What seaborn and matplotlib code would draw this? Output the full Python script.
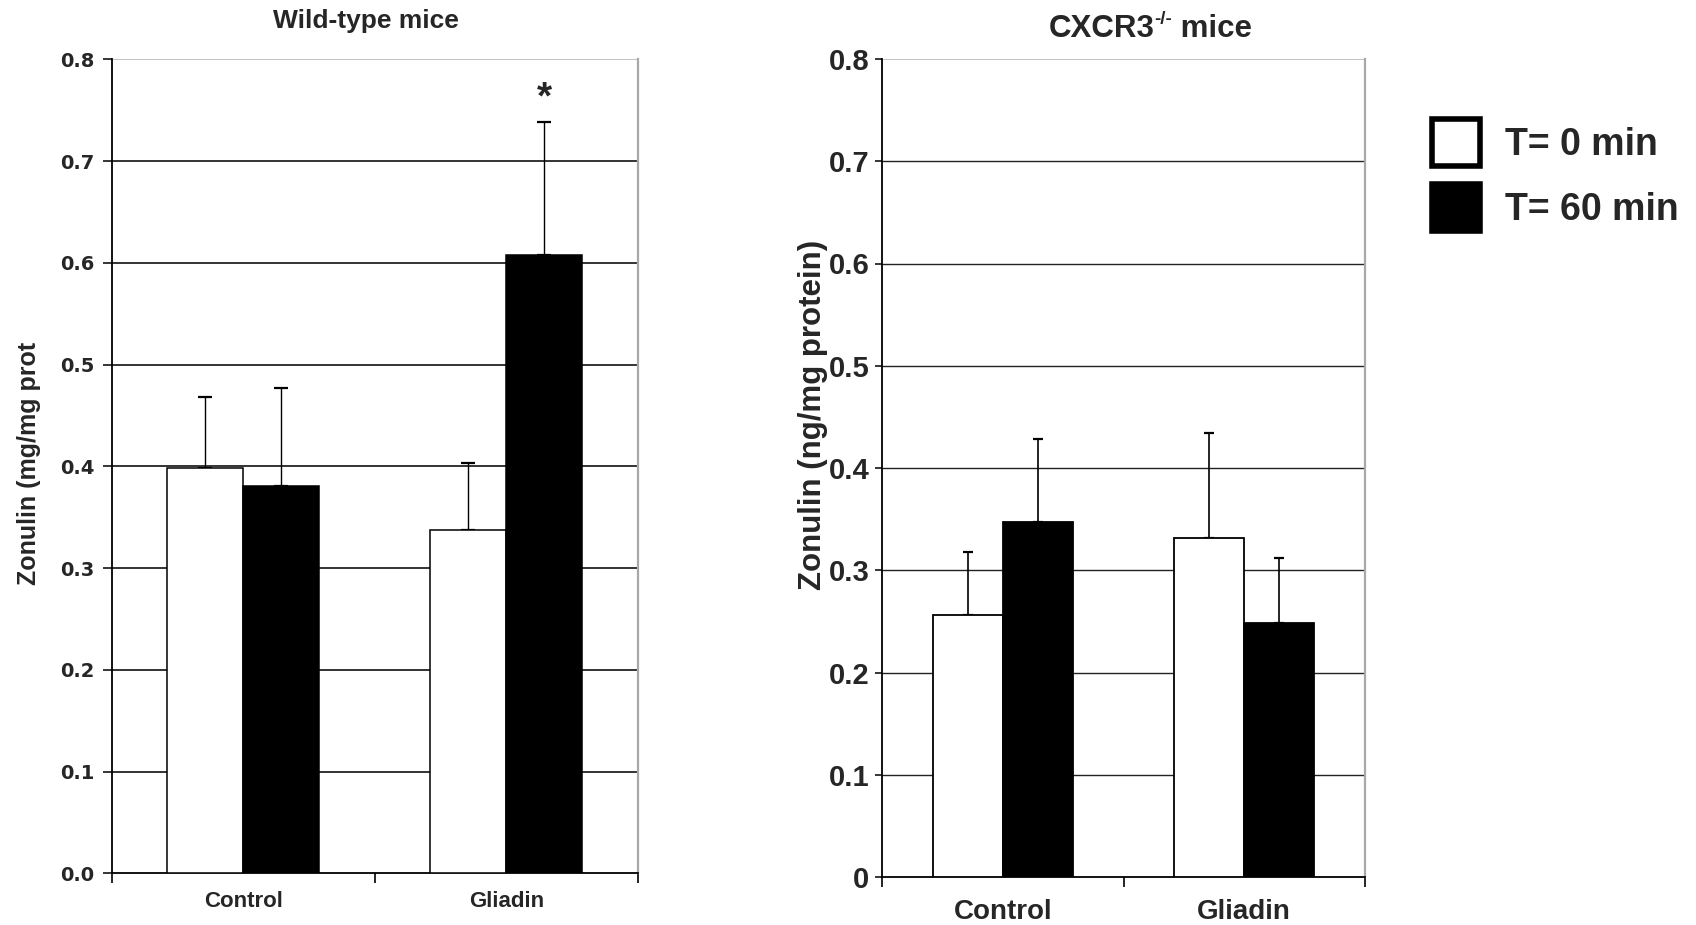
import matplotlib
matplotlib.use("Agg")
import matplotlib.pyplot as plt
from matplotlib.patches import Patch
import seaborn as sns
import pandas as pd

# ---------------- data ----------------
categories = ["Control", "Gliadin"]
times = ["T= 0 min", "T= 60 min"]

wt_t0 = [0.398, 0.337]
wt_t60 = [0.381, 0.608]
wt_t0_err = [0.070, 0.066]
wt_t60_err = [0.096, 0.130]

ko_t0 = [0.256, 0.332]
ko_t60 = [0.347, 0.248]
ko_t0_err = [0.062, 0.102]
ko_t60_err = [0.081, 0.064]

wt_yticks = [0.0, 0.1, 0.2, 0.3, 0.4, 0.5, 0.6, 0.7, 0.8]
wt_yticklabels = ["0.0", "0.1", "0.2", "0.3", "0.4", "0.5", "0.6", "0.7", "0.8"]
ko_yticks = [0.0, 0.1, 0.2, 0.3, 0.4, 0.5, 0.6, 0.7, 0.8]
ko_yticklabels = ["0", "0.1", "0.2", "0.3", "0.4", "0.5", "0.6", "0.7", "0.8"]

# ---------------- style ----------------
sns.set_theme(style="white")
WIDE = "Liberation Sans"
plt.rcParams["font.family"] = [WIDE, "DejaVu Sans"]
plt.rcParams["font.weight"] = "bold"

W, H = 1696, 925
fig = plt.figure(figsize=(W / 100, H / 100), dpi=100)
ax1 = fig.add_axes([111.5 / W, (H - 873.3) / H, (638 - 111.5) / W, (873.3 - 59.3) / H])
ax2 = fig.add_axes([882 / W, (H - 877) / H, (1365 - 882) / W, (877 - 59) / H])

palette = {times[0]: "white", times[1]: "black"}


def long_df(t0, t60):
    return pd.DataFrame({
        "group": categories * 2,
        "time": [times[0]] * len(categories) + [times[1]] * len(categories),
        "value": list(t0) + list(t60),
    })


def draw(ax, t0, t60, e0, e60, grid_color, grid_lw, capsize, bar_lw, err_lw):
    df = long_df(t0, t60)
    sns.barplot(data=df, x="group", y="value", hue="time", order=categories,
                hue_order=times, palette=palette, saturation=1, width=0.578,
                edgecolor="black", linewidth=bar_lw, errorbar=None,
                legend=False, ax=ax, zorder=3)
    for cont, errs in zip(ax.containers, [e0, e60]):
        xs = [b.get_x() + b.get_width() / 2 for b in cont]
        ys = [b.get_height() for b in cont]
        ax.errorbar(xs, ys, yerr=[[0] * len(errs), errs], fmt="none",
                    ecolor="black", elinewidth=err_lw, capsize=capsize,
                    capthick=1.6, zorder=2)
    ax.set_xlim(-0.5, 1.5)
    ax.set_ylim(0, 0.8)
    for y in [0.1, 0.2, 0.3, 0.4, 0.5, 0.6, 0.7]:
        ax.axhline(y, color=grid_color, lw=grid_lw, zorder=1)
    ax.axhline(0.8, color="#b8b8b8", lw=1.2, zorder=1)
    ax.set_xlabel("")
    ax.set_ylabel("")
    ax.spines["top"].set_visible(False)
    ax.spines["right"].set_color("#a8a8a8")
    ax.spines["right"].set_linewidth(1.6)
    ax.spines["left"].set_color("black")
    ax.spines["left"].set_linewidth(1.3)
    ax.spines["bottom"].set_color("black")
    ax.spines["bottom"].set_linewidth(1.3)
    ax.set_xticks([-0.5, 0.5, 1.5], minor=True)
    ax.tick_params(axis="x", which="minor", length=7, width=1.2,
                   direction="out", color="black", bottom=True)


draw(ax1, wt_t0, wt_t60, wt_t0_err, wt_t60_err, "#111111", 1.2, 4.7, 1.1, 1.0)
draw(ax2, ko_t0, ko_t60, ko_t0_err, ko_t60_err, "#222222", 1.0, 3.8, 1.3, 1.2)

# ---- left panel text ----
ax1.set_yticks(wt_yticks, wt_yticklabels)
ax1.tick_params(axis="y", which="major", length=6.5, width=1.1, pad=6,
                direction="out", left=True, color="black")
for t in ax1.get_yticklabels():
    t.set_fontsize(14); t.set_fontweight("bold"); t.set_family(["DejaVu Sans"])
ax1.set_xticks([0, 1], categories)
ax1.tick_params(axis="x", which="major", length=0, pad=13)
for t in ax1.get_xticklabels():
    t.set_fontsize(16); t.set_fontweight("bold"); t.set_family([WIDE])
ax1.text(0.4836, 1.038, "Wild-type mice", transform=ax1.transAxes,
         ha="center", va="baseline", fontsize=19, fontweight="bold",
         family=[WIDE])
ax1.text(-0.157, 0.503, "Zonulin (mg/mg prot", transform=ax1.transAxes,
         rotation=90, ha="center", va="center", fontsize=18,
         fontweight="bold", family=[WIDE])
# significance mark above Gliadin T=60 bar
star_bar = ax1.containers[1][1]
ax1.text(star_bar.get_x() + star_bar.get_width() / 2,
         wt_t60[1] + wt_t60_err[1] + 0.014, "*", ha="center", va="baseline",
         fontsize=28, fontweight="bold", family=[WIDE])

# ---- right panel text ----
ax2.set_yticks(ko_yticks, ko_yticklabels)
ax2.tick_params(axis="y", which="major", length=5, width=1.1, pad=4,
                direction="out", left=True, color="black")
for t in ax2.get_yticklabels():
    t.set_fontsize(21); t.set_fontweight("bold"); t.set_family([WIDE])
ax2.set_xticks([0, 1], categories)
ax2.tick_params(axis="x", which="major", length=0, pad=16)
for t in ax2.get_xticklabels():
    t.set_fontsize(20); t.set_fontweight("bold"); t.set_family([WIDE])
ax2.text(-0.142, 0.565, "Zonulin (ng/mg protein)", transform=ax2.transAxes,
         rotation=90, ha="center", va="center", fontsize=22.5,
         fontweight="bold", family=[WIDE])

# right title: CXCR3 with superscript -/- (plain hyphens), built from pieces
renderer = fig.canvas.get_renderer()
cx, cy = ax2.transAxes.transform((0.5557, 1.0272))
main_fs, sup_fs = 22.5, 13.5
pieces = [("CXCR3", main_fs, 0.0), ("-/-", sup_fs, 0.42 * main_fs * 100 / 72),
          ("\u00a0mice", main_fs, 0.0)]
txts = []
for s, fs, dy in pieces:
    t = fig.text(0, 0, s, transform=None, ha="left", va="baseline",
                 fontsize=fs, fontweight="bold", family=[WIDE])
    txts.append((t, dy))
widths = [t.get_window_extent(renderer).width for t, _ in txts]
x = cx - sum(widths) / 2
for (t, dy), w in zip(txts, widths):
    t.set_position((x, cy + dy))
    x += w

# ---- legend ----
handles = [Patch(facecolor="white", edgecolor="black", linewidth=4),
           Patch(facecolor="black", edgecolor="black", linewidth=4)]
fig.legend(handles, times, loc="upper left",
           bbox_to_anchor=(1431.5 / W, 1 - 118.5 / H),
           frameon=False, borderpad=0, borderaxespad=0,
           handlelength=1.29, handleheight=1.57, handletextpad=0.66,
           labelspacing=0.47, prop={"family": WIDE, "weight": "bold", "size": 27})

fig.savefig("out.png", dpi=100)
